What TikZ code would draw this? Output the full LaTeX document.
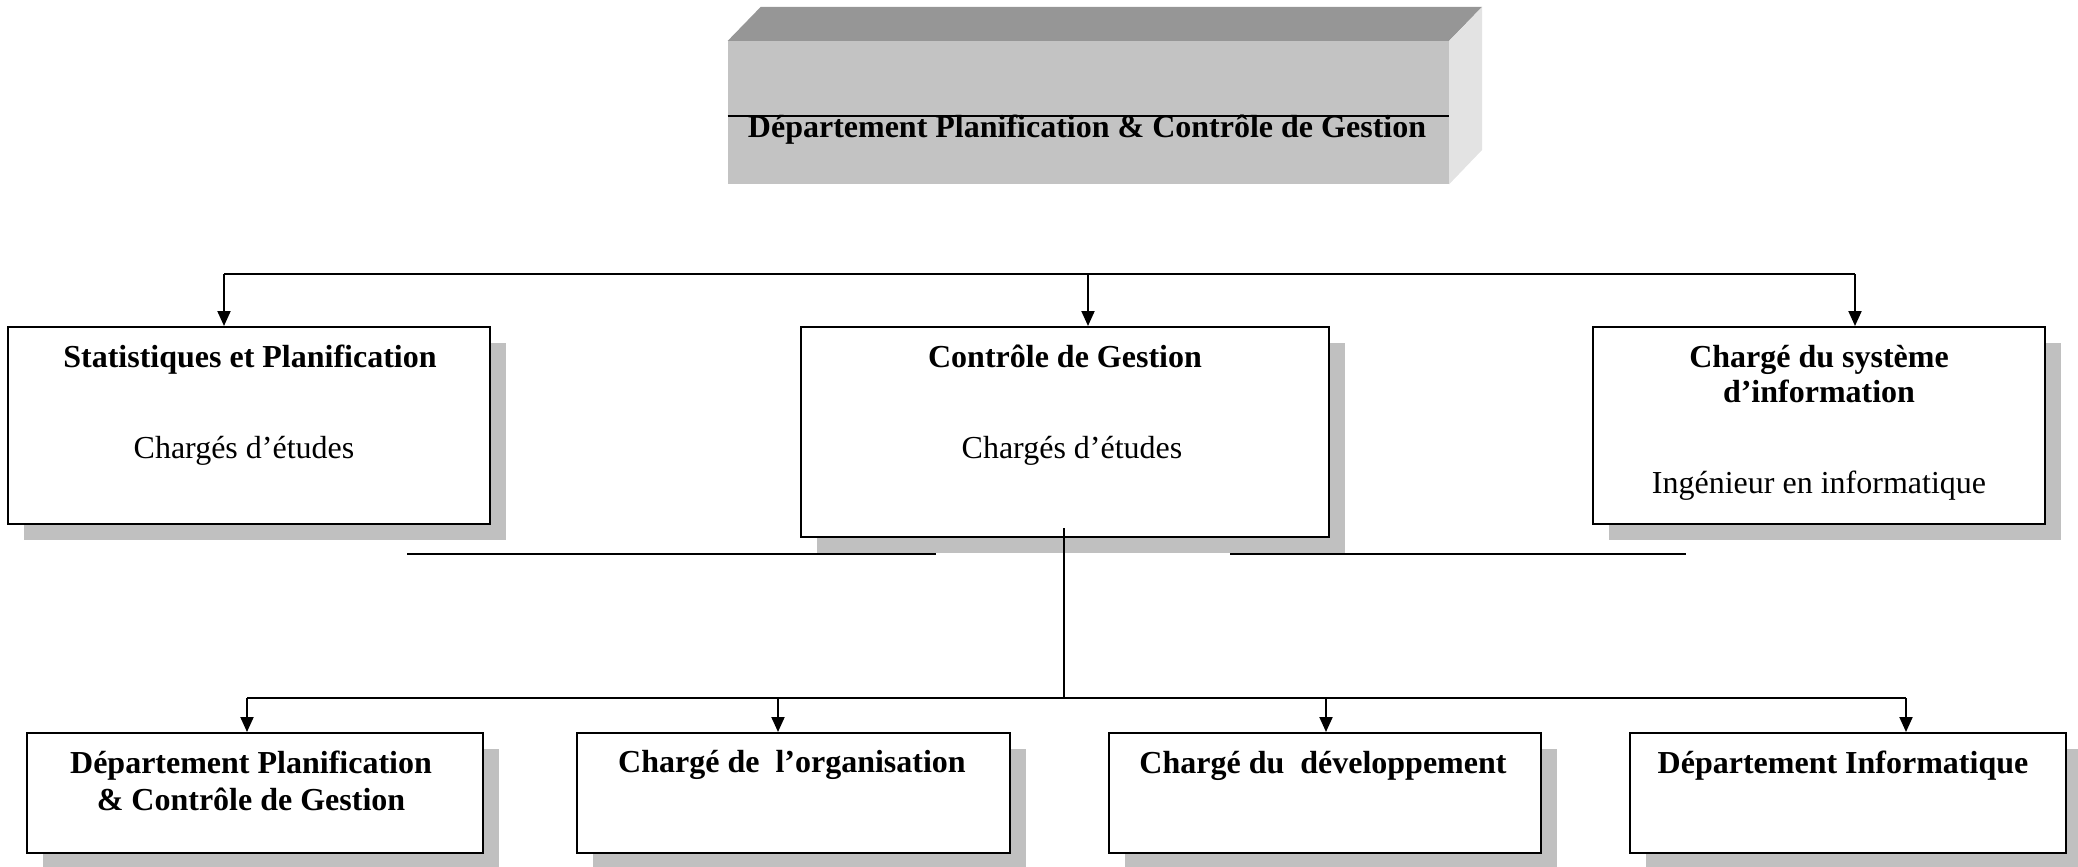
\documentclass[tikz,border=0pt]{standalone}
\usepackage{fontspec}
\setmainfont{Liberation Serif}
\usetikzlibrary{arrows.meta,shadows}
\definecolor{shade}{RGB}{192,192,192}
\definecolor{facefront}{RGB}{195,195,195}
\definecolor{facetop}{RGB}{150,150,150}
\definecolor{faceside}{RGB}{227,227,227}

\begin{document}
\begin{tikzpicture}[x=1pt,y=-1pt,
  unitbox/.style={draw=black, line width=2pt, fill=white, rectangle, inner sep=0pt,
    anchor=north west, general shadow={fill=shade, shadow xshift=16pt, shadow yshift=-16pt}},
  head/.style={font=\fontsize{32}{36}\selectfont\bfseries, anchor=base, inner sep=0pt},
  sub/.style={font=\fontsize{32}{36}\selectfont, anchor=base, inner sep=0pt},
  link/.style={line width=2pt, -{Triangle[length=15pt,width=13pt]}},
  rule/.style={line width=2pt}]

\useasboundingbox (0,0) rectangle (2078,867);

% --- department block (3D bar) ---
\node[fill=facefront, minimum width=721pt, minimum height=143pt, inner sep=0pt,
      anchor=north west] (dept) at (727.6,41) {};
\fill[facetop] (dept.north west) -- ++(33,-34) -- ([shift={(33,-34)}]dept.north east)
  -- (dept.north east) -- cycle;
\fill[faceside] (dept.north east) -- ++(33,-34) -- ++(0,143) -- (dept.south east) -- cycle;
\coordinate (midline) at (0,116);
\draw[rule] (dept.west |- midline) -- (dept.east |- midline);
\node[head] (depttitle) at (1087,137) {Département Planification \& Contrôle de Gestion};

% --- first level units ---
\node[unitbox, minimum width=482pt, minimum height=197pt] (sp) at (7,326) {};
\node[head] (sptitle) at (250,367) {Statistiques et Planification};
\node[sub] (spsub) at (244,458) {Chargés d’études};

\node[unitbox, minimum width=528pt, minimum height=210pt] (cg) at (800,326) {};
\node[head] (cgtitle) at (1065,367) {Contrôle de Gestion};
\node[sub] (cgsub) at (1072,458) {Chargés d’études};

\node[unitbox, minimum width=452pt, minimum height=197pt] (si) at (1592,326) {};
\node[head] (sititle) at (1819,367) {Chargé du système};
\node[head] (sititleb) at (1819,402) {d’information};
\node[sub] (sisub) at (1819,493) {Ingénieur en informatique};

% --- second level units ---
\node[unitbox, minimum width=456pt, minimum height=120pt] (pc) at (26,732) {};
\node[head] (pctitle) at (251,773) {Département Planification};
\node[head] (pctitleb) at (251,810) {\& Contrôle de Gestion};

\node[unitbox, minimum width=433pt, minimum height=120pt] (org) at (576,732) {};
\node[head] (orgtitle) at (792,772) {Chargé de\ \ l’organisation};

\node[unitbox, minimum width=432pt, minimum height=120pt] (dev) at (1108,732) {};
\node[head] (devtitle) at (1323,773) {Chargé du\ \ développement};

\node[unitbox, minimum width=436pt, minimum height=120pt] (inf) at (1629,732) {};
\node[head] (inftitle) at (1843,773) {Département Informatique};

% --- upper distribution bar ---
\coordinate (tl) at (224,274);
\coordinate (tm) at (1088,274);
\coordinate (tr) at (1855,274);
\draw[rule] (tl) -- (tr);
\draw[link] (tl) -- (tl |- sp.north);
\draw[link] (tm) -- (tm |- cg.north);
\draw[link] (tr) -- (tr |- si.north);

% --- loose rules under the first level ---
\coordinate (ra) at (407,554);
\coordinate (rb) at (936,554);
\coordinate (rc) at (1230,554);
\coordinate (rd) at (1686,554);
\draw[rule] (ra) -- (rb);
\draw[rule] (rc) -- (rd);

% --- trunk and lower distribution bar ---
\coordinate (trunktop) at (1064,528);
\coordinate (bl) at (247,698);
\coordinate (bj) at (1064,698);
\coordinate (b2) at (778,698);
\coordinate (b3) at (1326,698);
\coordinate (br) at (1906,698);
\draw[rule] (trunktop) -- (bj);
\draw[rule] (bl) -- (br);
\draw[link] (bl) -- (bl |- pc.north);
\draw[link] (b2) -- (b2 |- org.north);
\draw[link] (b3) -- (b3 |- dev.north);
\draw[link] (br) -- (br |- inf.north);

\end{tikzpicture}
\end{document}
